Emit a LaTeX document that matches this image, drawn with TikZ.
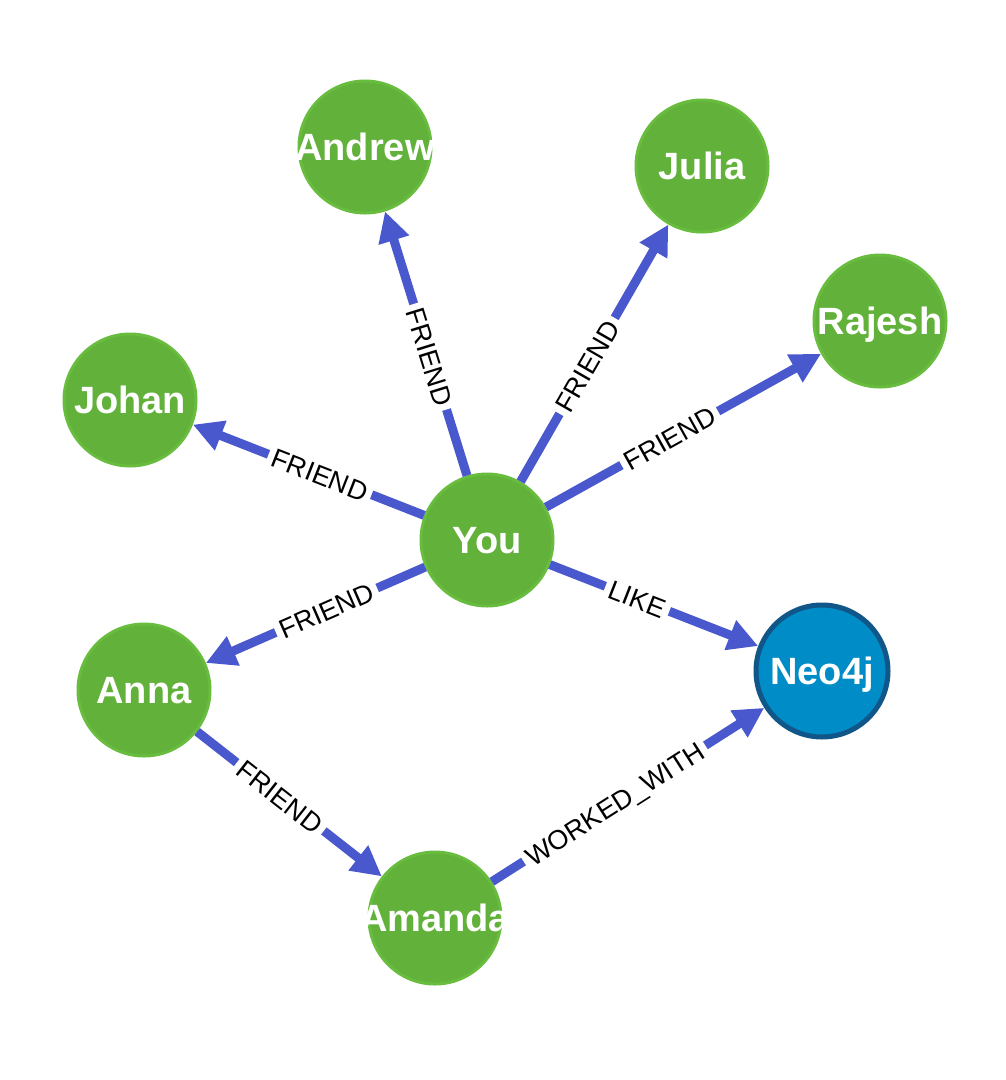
\documentclass[tikz,border=0pt]{standalone}
\usepackage{fontspec}
\setmainfont{Liberation Sans}
\usetikzlibrary{arrows.meta}

\definecolor{nodegreen}{RGB}{98,177,58}
\definecolor{rimgreen}{RGB}{104,188,62}
\definecolor{edgeblue}{RGB}{73,88,204}
\definecolor{neofill}{RGB}{0,140,198}
\definecolor{neorim}{RGB}{16,86,136}

\newcommand*{\who}[1]{\makebox[0pt]{#1}}

\begin{document}
\begin{tikzpicture}[x=1pt, y=-1pt]
    \tikzstyle{person} = [circle, minimum size=132pt, inner sep=0pt, fill=nodegreen, draw=rimgreen, line width=3pt, text=white, font=\fontsize{38}{40}\selectfont\bfseries, text height=27pt, text depth=0pt]
    \tikzstyle{product} = [person, fill=neofill, draw=neorim, line width=5pt]
    \tikzstyle{arrow} = [edgeblue, line width=9pt, -{Triangle[length=30pt, width=30pt]}]
    \tikzstyle{rel} = [sloped, fill=white, text=black, inner sep=5pt, font=\fontsize{27}{29}\selectfont, text height=20pt, text depth=0pt, pos=0.45]

    \useasboundingbox (0,0) rectangle (1006,1080);

    \node (you) [person] at (487,540) {\who{You}};

    \node (andrew) [person] at (365,147) {\who{Andrew}};

    \node (julia) [person] at (702,166) {\who{Julia}};

    \node (rajesh) [person] at (880,321) {\who{Rajesh}};

    \node (johan) [person] at (130,400) {\who{Johan}};

    \node (anna) [person] at (144,690) {\who{Anna}};

    \node (amanda) [person] at (435,918) {\who{Amanda}};

    \node (neo) [product] at (822,671) {\who{Neo4j}};

    \draw [arrow] (you) -- node[rel] {FRIEND} (andrew);
    \draw [arrow] (you) -- node[rel] {FRIEND} (julia);
    \draw [arrow] (you) -- node[rel] {FRIEND} (rajesh);
    \draw [arrow] (you) -- node[rel] {FRIEND} (johan);
    \draw [arrow] (you) -- node[rel] {FRIEND} (anna);
    \draw [arrow] (you) -- node[rel, pos=0.42] {LIKE} (neo);

    \draw [arrow] (anna) -- node[rel] {FRIEND} (amanda);
    \draw [arrow] (amanda) -- node[rel] {WORKED\_WITH} (neo);

\end{tikzpicture}
\end{document}
